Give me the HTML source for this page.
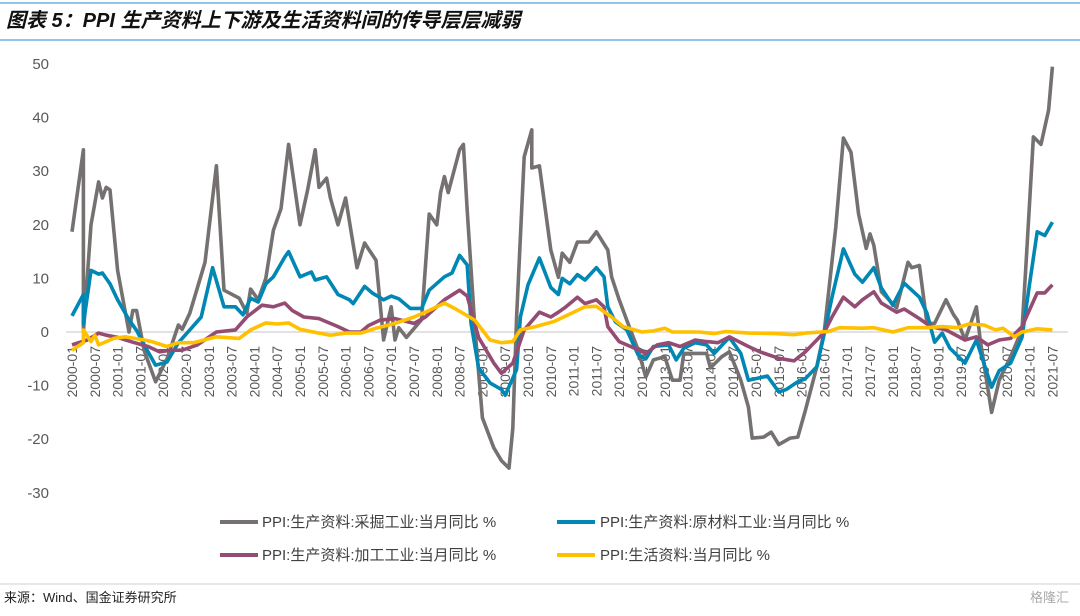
<!DOCTYPE html>
<html><head><meta charset="utf-8"><style>
body{margin:0;background:#fff;width:1080px;height:611px;overflow:hidden;font-family:"Liberation Sans","Noto Sans CJK SC",sans-serif;}
</style></head><body>
<svg id="c" width="1080" height="611" xmlns="http://www.w3.org/2000/svg">
<line x1="0" y1="3" x2="1080" y2="3" stroke="#6DB3E3" stroke-width="1.5"/>
<text x="6" y="27" font-size="20" font-weight="bold" font-style="italic" fill="#111" font-family="Liberation Sans, Noto Sans CJK SC, sans-serif">图表 5：PPI 生产资料上下游及生活资料间的传导层层减弱</text>
<line x1="0" y1="40" x2="1080" y2="40" stroke="#6DB3E3" stroke-width="1.5"/>
<g id="axes"></g><g id="series"></g>
<g font-size="15" fill="#404040">
<line x1="220" y1="522" x2="258" y2="522" stroke="#767171" stroke-width="4"/>
<text x="262" y="527">PPI:生产资料:采掘工业:当月同比 %</text>
<line x1="557" y1="522" x2="595" y2="522" stroke="#0087B4" stroke-width="4"/>
<text x="600" y="527">PPI:生产资料:原材料工业:当月同比 %</text>
<line x1="220" y1="555" x2="258" y2="555" stroke="#944C72" stroke-width="4"/>
<text x="262" y="560">PPI:生产资料:加工工业:当月同比 %</text>
<line x1="557" y1="555" x2="595" y2="555" stroke="#FFC000" stroke-width="4"/>
<text x="600" y="560">PPI:生活资料:当月同比 %</text>
</g>
<line x1="0" y1="584" x2="1080" y2="584" stroke="#d0d0d0" stroke-width="1"/>
<text x="4" y="602" font-size="13" fill="#222">来源：Wind、国金证券研究所</text>
<text x="1030" y="602" font-size="13" fill="#aaa">格隆汇</text>
</svg>
<script>
const yTicks=[50,40,30,20,10,0,-10,-20,-30];
const xLabelYears=[2000,2001,2002,2003,2004,2005,2006,2007,2008,2009,2010,2011,2012,2013,2014,2015,2016,2017,2018,2019,2020,2021];
const miningM=[0,3,3,5,7,8,9,10,12,15,16,17,19,22,25,28,29,31,35,38,40,44,46,47,49,51,53,55,57,60,62,64,65,67,68,70,72,75,77,78,80,82,84,85,86,88,92,94,96,97,98,99,102,103,104,106,108,111,113,115,116,117,119,121,121,123,126,128,129,131,133,136,138,141,142,144,146,149,151,153,156,158,160,161,164,167,168,171,173,176,178,179,182,184,186,189,191,193,196,198,201,203,205,207,209,210,211,213,217,220,221,223,225,227,230,232,233,235,238,239,242,244,247,250,251,253,255,257,258];
const miningV=[18.7,34,0,20,28,25,27,26.5,11.5,0,4,4,-3.5,-9.3,-5,1.3,0.5,3.5,13,31,7.8,6.3,3.5,8,6,10,19,23,35,20,26.5,34,27,28.7,25,20,25,12,16.6,15.5,13.4,-1.5,4.7,-1.5,0.8,-1,2.3,22,20,26,29,26,34,35,22.7,1,-16,-21.6,-24,-25.4,-18,2.8,32.7,37.7,30.6,31,15.3,10.2,14.7,13,16.8,16.8,18.7,15.3,10.3,6,2.2,-3.4,-8.4,-5.2,-4.6,-9,-9,-4,-4,-4,-6.7,-4.6,-3.7,-9,-14,-19.8,-19.6,-18.7,-21,-19.8,-19.6,-14.6,-6.5,0.3,19.6,36.2,33.5,22,15.6,18.3,16.2,7.5,4.5,13,12,12.4,1.6,1.6,6,3.2,2.2,-1.5,4.7,-1.5,-15,-9,-4.6,0.4,12,36.4,35,41.4,49.5];
const rawM=[0,3,3,5,7,8,10,12,15,17,20,22,25,28,31,34,37,40,43,45,47,49,51,53,56,57,60,63,64,67,70,73,74,77,79,82,84,86,89,92,94,98,100,102,104,105,107,110,113,114,117,118,120,123,126,128,129,131,133,135,138,140,141,143,146,149,151,153,157,159,161,164,167,169,173,176,178,180,183,186,188,191,193,196,198,200,203,206,208,211,213,216,219,223,225,227,229,231,235,238,239,242,244,247,250,252,254,256,258];
const rawV=[3,7,1.5,11.5,10.8,11,9,6,2.3,0.3,-3.7,-6.2,-5.6,-2,0.4,2.8,12,4.7,4.7,3.2,6.3,5.6,9,10.3,14,15,10.3,11.2,9.7,10.3,7,6,5.3,8.5,7.3,6,6.7,6.2,4.4,4.4,7.8,10.3,11,14.3,12.5,1.7,-6.7,-9.5,-10.7,-11.8,-7,2.8,8.8,13.8,8.3,7,10,9,10.7,9.7,12,10.3,4.7,1.9,0.4,-4.3,-5,-2.7,-2.4,-5.2,-3,-2,-2.4,-4,-1,-4,-9,-8.7,-8.2,-11.2,-10.7,-9.3,-8.7,-6.5,-0.2,6.5,15.5,10.8,9.3,12,8.2,5,9.1,6.5,3.5,-1.9,-0.2,-3,-5.8,-1.5,-3.7,-10.3,-7.2,-5.8,-1,9,18.7,18,20.5];
const procM=[0,4,7,9,12,16,20,23,26,29,33,38,43,46,50,53,56,58,61,65,70,73,76,78,81,85,90,93,98,102,104,107,111,113,116,119,123,126,128,130,133,135,138,140,141,144,147,151,154,157,160,164,167,170,173,178,181,186,190,193,196,198,200,203,206,208,211,213,217,219,223,226,230,235,238,241,244,247,250,254,256,258];
const procV=[-2.4,-1.5,-0.2,-0.6,-1,-1.9,-2.7,-3.7,-3.4,-3.4,-2.4,0,0.4,2.8,5,4.7,5.4,4,2.8,2.5,1,0,0,1.2,2.2,2.5,1.6,2.8,6,7.8,6.7,-1,-5.8,-7.7,-5.8,0.4,3.7,2.8,3.7,4.7,6.5,5.3,6,4.7,1,-1.8,-2.7,-4,-2.4,-2,-2.7,-1.5,-1.8,-2,-0.9,-2.7,-3.7,-4.9,-5.4,-3.7,-1.5,0,2.8,6.5,4.7,6,7.5,5.4,3.7,4.3,2.5,1,0.4,-1.5,-0.9,-2.4,-1.5,-1.2,1,7.3,7.3,8.8];
const consM=[0,3,3,5,6,7,11,14,19,21,25,28,32,38,44,47,51,54,57,60,65,68,72,76,80,85,90,93,98,101,106,110,113,116,118,122,127,132,135,138,142,145,150,153,156,158,165,169,172,178,185,190,193,199,202,208,211,216,220,225,229,233,236,240,243,245,248,250,254,258];
const consV=[-3.4,-2,0.4,-1.8,-0.6,-2.4,-1.2,-0.9,-1.5,-1.8,-2.7,-2,-2,-0.9,-1.2,0.4,1.7,1.5,1.7,0.5,-0.2,-0.6,-0.2,-0.2,0.7,1.6,2.8,3.7,5.4,4.3,2.2,-1.5,-2,-1.8,0.4,1,2,3.7,4.7,4.8,2.8,1,0,0.2,0.7,0,0,-0.3,0.1,-0.2,-0.3,-0.5,-0.2,0.1,0.8,0.7,0.8,0,0.8,0.8,1,0.8,1.5,1.3,0.4,0.7,-0.9,0,0.6,0.4];

const NS="http://www.w3.org/2000/svg";
const X0=72, PXM=3.8, Y0=332, PXU=5.36;
function xs(m){return X0+m*PXM;}
function ys(v){return Y0-v*PXU;}
const axes=document.getElementById('axes');
const zl=document.createElementNS(NS,'line');
zl.setAttribute('x1',66);zl.setAttribute('x2',1068);zl.setAttribute('y1',ys(0));zl.setAttribute('y2',ys(0));
zl.setAttribute('stroke','#d9d9d9');zl.setAttribute('stroke-width','1.5');


axes.appendChild(zl);
yTicks.forEach(v=>{
  const t=document.createElementNS(NS,'text');
  t.setAttribute('x',49);t.setAttribute('y',ys(v)+5);t.setAttribute('text-anchor','end');
  t.setAttribute('font-size','15');t.setAttribute('fill','#595959');
  t.textContent=v;
  
  
  axes.appendChild(t);
});
xLabelYears.forEach((yr,i)=>{
  ['01','07'].forEach((mo,j)=>{
    const m=i*12+j*6;
    const t=document.createElementNS(NS,'text');
    const x=xs(m)+5;
    t.setAttribute('transform','translate('+x+',346) rotate(-90)');
    t.setAttribute('text-anchor','end');
    t.setAttribute('font-size','14');t.setAttribute('fill','#595959');
    t.textContent=yr+'-'+mo;
    
    
    axes.appendChild(t);
  });
});
const ser=document.getElementById('series');
function draw(M,V,color,name){
  const p=document.createElementNS(NS,'polyline');
  p.setAttribute('points',M.map((m,i)=>xs(m).toFixed(1)+','+ys(V[i]).toFixed(1)).join(' '));
  p.setAttribute('fill','none');p.setAttribute('stroke',color);p.setAttribute('stroke-width','3.6');
  p.setAttribute('stroke-linejoin','round');
  
  
  ser.appendChild(p);
}
draw(miningM,miningV,'#767171','mining-line');
draw(rawM,rawV,'#0087B4','raw-materials-line');
draw(procM,procV,'#944C72','processing-line');
draw(consM,consV,'#FFC000','consumer-goods-line');
</script>
</body></html>
